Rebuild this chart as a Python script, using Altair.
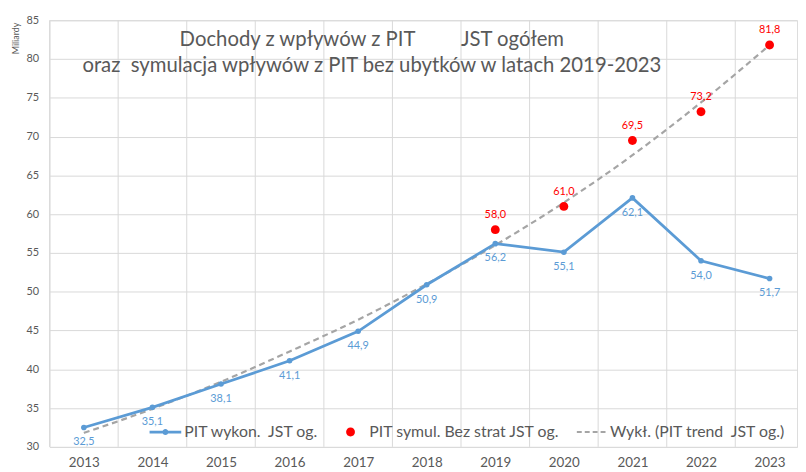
import altair as alt
import pandas as pd

years = list(range(2013, 2024))
pit_wykon = [32.5, 35.1, 38.1, 41.1, 44.9, 50.9, 56.2, 55.1, 62.1, 54.0, 51.7]
sym_years = [2019, 2020, 2021, 2022, 2023]
pit_symul = [58.0, 61.0, 69.5, 73.2, 81.8]
trend = [31.8, 34.9, 38.4, 42.3, 46.4, 51.0, 56.0, 61.5, 67.6, 74.4, 81.8]
y_ticks = list(range(30, 90, 5))

S1 = "PIT wykon.\u00a0 JST og."
S2 = "PIT symul. Bez strat JST og."
S3 = "Wykł. (PIT trend\u00a0 JST og.)"
TITLE1 = "Dochody z wpływów z PIT" + "\u00a0" * 8 + " JST ogółem"
TITLE2 = "oraz\u00a0 symulacja wpływów z PIT bez ubytków w latach 2019-2023"

BLUE = "#5b9bd5"
RED = "#ff0000"
GRAY = "#a5a5a5"
GRID = "#d9d9d9"
TXT = "#595959"
FONT = "Lato"


def lab(v):
    return f"{v:.1f}".replace(".", ",")


df_w = pd.DataFrame({"year": years, "value": pit_wykon,
                     "label": [lab(v) for v in pit_wykon]})
df_s = pd.DataFrame({"year": sym_years, "value": pit_symul,
                     "label": [lab(v) for v in pit_symul], "series": S2})
df_t = pd.DataFrame({"year": years, "value": trend})
df_g = pd.DataFrame({"year": years})

x_scale = alt.Scale(domain=[2012.5, 2023.4], nice=False, zero=False)
y_scale = alt.Scale(domain=[30, 85], nice=False, zero=False)

x_axis = alt.Axis(values=years, format="d", title=None, grid=False, ticks=False,
                  domain=False, labelFontSize=13.5, labelColor=TXT, labelFont=FONT,
                  labelPadding=9, labelFlush=False)
y_axis = alt.Axis(values=y_ticks, title="Miliardy", titleFontSize=9, titleFont=FONT,
                  titleColor=TXT, titleFontWeight="normal", titleAngle=270,
                  titleAlign="right", titleBaseline="middle", titleX=-34, titleY=2,
                  grid=True, gridColor=GRID, gridWidth=1, domain=False, ticks=False,
                  labelFontSize=11, labelFont=FONT, labelColor=TXT, labelPadding=11)

X = alt.X("year:Q", scale=x_scale, axis=x_axis)
Y = alt.Y("value:Q", scale=y_scale, axis=y_axis)

vgrid = (alt.Chart(df_g)
         .transform_calculate(b="datum.year - 0.5")
         .mark_rule(color=GRID, strokeWidth=1)
         .encode(x=alt.X("b:Q", scale=x_scale, axis=x_axis)))

trend_line = (alt.Chart(df_t)
              .mark_line(color=GRAY, strokeWidth=2.2, strokeDash=[6, 4],
                         interpolate="monotone")
              .encode(x=X, y=Y))

blue_line = (alt.Chart(df_w)
             .mark_line(color=BLUE, strokeWidth=2.75,
                        point=alt.OverlayMarkDef(color=BLUE, size=32, filled=True))
             .encode(x=X, y=Y))

blue_labels = (alt.Chart(df_w)
               .mark_text(color=BLUE, font=FONT, fontSize=11, dy=15, baseline="middle")
               .encode(x=X, y=Y, text="label:N"))

p_line = ("M-1,-0.085H1V0.085H-1Z"
          "M-0.19,0A0.19,0.19 0 1,1 0.19,0A0.19,0.19 0 1,1 -0.19,0Z")
p_dot = "M-0.28,0A0.28,0.28 0 1,1 0.28,0A0.28,0.28 0 1,1 -0.28,0Z"
p_dash = "".join(
    f"M{-0.9 + i * 0.5:.2f},-0.065H{-0.9 + i * 0.5 + 0.31:.2f}V0.065H{-0.9 + i * 0.5:.2f}Z"
    for i in range(4))

legend = alt.Legend(title=None, orient="none", legendX=101, legendY=400,
                    direction="horizontal", symbolSize=1024, symbolStrokeWidth=0,
                    labelFont=FONT, labelFontSize=16, labelColor=TXT, labelOffset=3,
                    labelLimit=400, columnPadding=15, padding=0, symbolOpacity=1)

red_pts = (alt.Chart(df_s)
           .mark_point(filled=True, size=1024, opacity=1, strokeWidth=0)
           .encode(x=X, y=Y,
                   color=alt.Color("series:N",
                                   scale=alt.Scale(domain=[S1, S2, S3],
                                                   range=[BLUE, RED, GRAY]),
                                   legend=legend),
                   shape=alt.Shape("series:N",
                                   scale=alt.Scale(domain=[S1, S2, S3],
                                                   range=[p_line, p_dot, p_dash]),
                                   legend=legend)))

red_labels = (alt.Chart(df_s)
              .mark_text(color=RED, font=FONT, fontSize=11, dy=-15, baseline="middle")
              .encode(x=X, y=Y, text="label:N"))

chart = (alt.layer(vgrid, trend_line, blue_line, blue_labels, red_pts, red_labels)
         .properties(width=755, height=431,
                     padding={"left": 42, "top": 10, "right": 1, "bottom": 23},
                     autosize=alt.AutoSizeParams(type="none"),
                     title=alt.TitleParams(text=[TITLE1, TITLE2], font=FONT, fontSize=20.5,
                                           color=TXT, fontWeight="normal",
                                           anchor="middle", frame="group",
                                           orient="top", baseline="top",
                                           offset=-63, dx=-52, lineHeight=26))
         .configure_view(stroke=None)
         .configure(background="white", font=FONT))

chart.save("out.html", embed_options={"renderer": "svg", "actions": False})
